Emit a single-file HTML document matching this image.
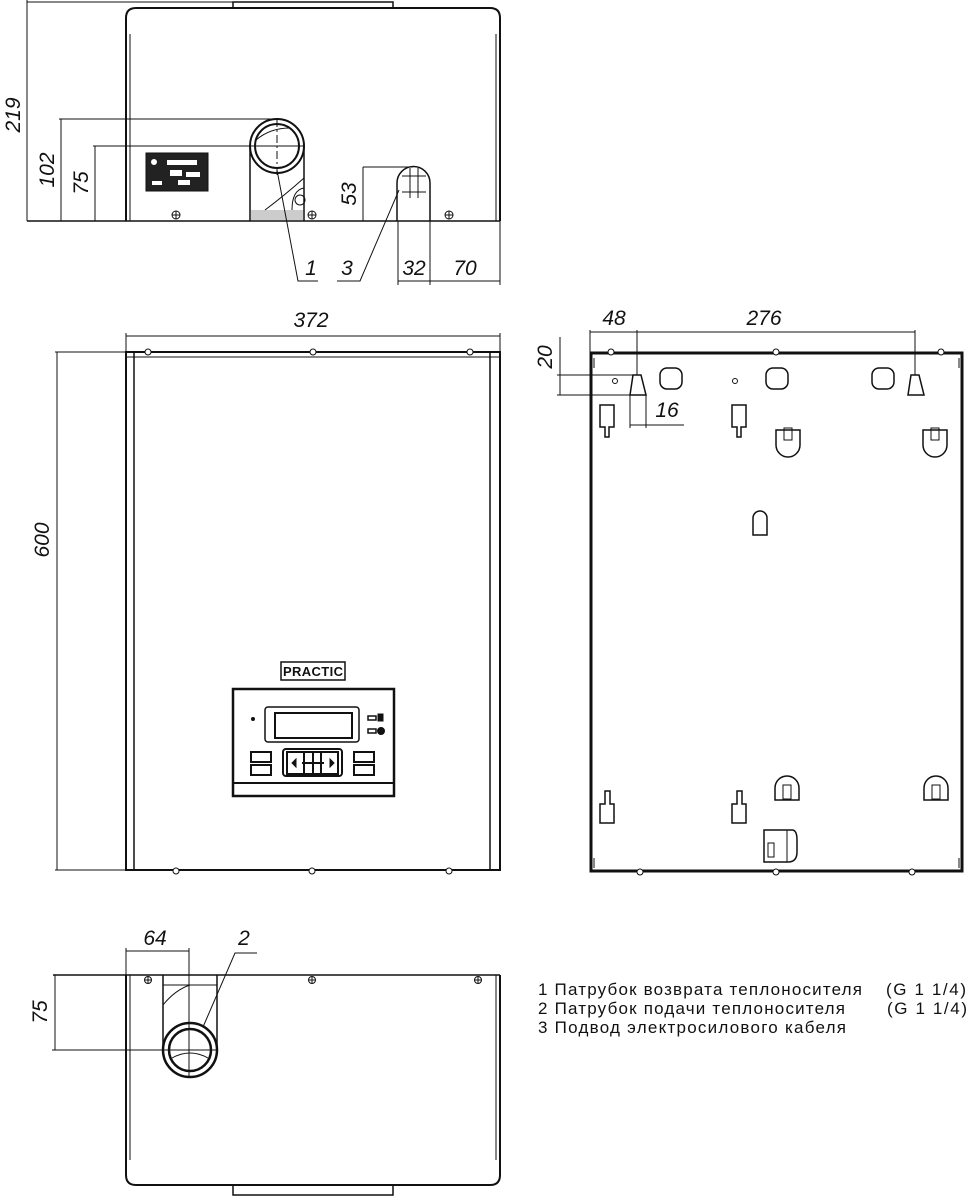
<!DOCTYPE html>
<html><head><meta charset="utf-8"><style>
html,body{margin:0;padding:0;background:#fff}
svg{display:block}
.d{font-family:"Liberation Sans",sans-serif;font-style:italic;font-size:21px;fill:#111}
.t{font-family:"Liberation Sans","Noto Sans CJK SC",sans-serif;font-size:17px;fill:#111}
</style></head><body>
<svg width="969" height="1200" viewBox="0 0 969 1200" xmlns="http://www.w3.org/2000/svg">
<g fill="none" stroke="#111" stroke-width="1">
<!-- TOP VIEW -->
<path d="M233 8 V2 H393 V8" stroke-width="1.5"/>
<path d="M126 221 V18 Q126 8 136 8 H490 Q500 8 500 18 V221" stroke-width="2"/>
<path d="M130 221 V34 M496 221 V34"/>
<line x1="27" y1="221" x2="500" y2="221" stroke-width="1.5"/>
<line x1="27" y1="0" x2="27" y2="221"/>
<line x1="27" y1="2" x2="233" y2="2"/>
<line x1="61" y1="119" x2="61" y2="221"/><line x1="59" y1="119" x2="277" y2="119"/>
<line x1="95" y1="146" x2="95" y2="221"/><line x1="93" y1="146" x2="305" y2="146"/>
<rect x="146" y="153" width="62" height="38" fill="#222"/>
<g fill="#fff" stroke="none"><rect x="167" y="160" width="30" height="5"/><rect x="170" y="170" width="12" height="6"/><rect x="186" y="172" width="14" height="5"/><rect x="152" y="181" width="10" height="4"/><rect x="178" y="180" width="12" height="5"/><circle cx="154" cy="162" r="3"/></g>
<path d="M250 221 V146 M304 221 V146" stroke-width="1.5"/>
<rect x="251" y="210" width="52" height="10" fill="#ccc" stroke="none"/>
<circle cx="277" cy="146" r="27" stroke-width="2"/>
<circle cx="277" cy="146" r="22" stroke-width="2"/>
<path d="M256 140 Q270 128 290 128"/>
<path d="M265 210 Q285 195 304 178"/>
<circle cx="300" cy="200" r="5"/><path d="M292 210 Q292 190 304 188"/>
<line x1="277" y1="119" x2="277" y2="175" stroke-dasharray="8 3 2 3"/>
<g fill="#fff"><circle cx="176" cy="215" r="4"/><circle cx="312" cy="215" r="4"/><circle cx="449" cy="215" r="4"/></g>
<path d="M172 215 H180 M176 211 V219 M308 215 H316 M312 211 V219 M445 215 H453 M449 211 V219"/>
<path d="M397 221 V183 A16.5 16.5 0 0 1 430 183 V221" stroke-width="1.5"/>
<path d="M402 176 H426 M402 192 H426 M410 168 V198 M418 168 V198"/>
<line x1="363" y1="167" x2="363" y2="221"/><line x1="363" y1="167" x2="413" y2="167"/>
<path d="M277 170 L298 281 H318"/>
<path d="M399 190 L360 281 H337"/>
<line x1="398" y1="221" x2="398" y2="285"/><line x1="430" y1="221" x2="430" y2="285"/><line x1="500" y1="221" x2="500" y2="285"/>
<line x1="398" y1="281" x2="500" y2="281"/>
<!-- FRONT VIEW -->
<rect x="126" y="352" width="374" height="518" stroke-width="2"/>
<path d="M134 352 V870 M490 352 V870" stroke-width="1.5"/>
<path d="M126 357 H500"/>
<g fill="#fff"><circle cx="148" cy="352" r="3"/><circle cx="313" cy="352" r="3"/><circle cx="470" cy="352" r="3"/>
<circle cx="176" cy="871" r="3"/><circle cx="312" cy="871" r="3"/><circle cx="449" cy="871" r="3"/></g>
<line x1="126" y1="336" x2="500" y2="336"/><line x1="126" y1="333" x2="126" y2="352"/><line x1="500" y1="333" x2="500" y2="352"/>
<line x1="57" y1="352" x2="57" y2="870"/><line x1="55" y1="352" x2="126" y2="352"/><line x1="55" y1="870" x2="126" y2="870"/>
<rect x="281" y="662" width="64" height="18" stroke-width="1.5"/>
<rect x="233" y="689" width="161" height="107" stroke-width="2.5"/>
<line x1="233" y1="783" x2="394" y2="783" stroke-width="2"/>
<rect x="265" y="707" width="94" height="35" rx="3" stroke-width="1.5"/>
<rect x="275" y="713" width="77" height="25" stroke-width="2"/>
<circle cx="253" cy="719" r="1.5" fill="#111"/>
<rect x="368" y="716" width="8" height="4" stroke-width="1.5"/><rect x="368" y="729" width="8" height="4" stroke-width="1.5"/>
<rect x="378" y="714" width="5" height="7" fill="#111"/><circle cx="381" cy="731" r="3.5" fill="#111"/>
<rect x="251" y="752" width="20" height="10" stroke-width="2"/><rect x="251" y="765" width="20" height="10" stroke-width="2"/>
<rect x="354" y="752" width="20" height="10" stroke-width="2"/><rect x="354" y="765" width="20" height="10" stroke-width="2"/>
<rect x="283" y="749" width="59" height="27" rx="3" stroke-width="2"/>
<rect x="287" y="752" width="17" height="22" stroke-width="2"/><rect x="304" y="752" width="17" height="22" stroke-width="2"/><rect x="321" y="752" width="17" height="22" stroke-width="2"/>
<path d="M296 759 L292 763 L296 767 Z M330 759 L334 763 L330 767 Z" fill="#111"/>
<path d="M302 763 H324 M313 753 V773" stroke-width="2"/>
<!-- RIGHT VIEW -->
<rect x="591" y="353" width="371" height="518" stroke-width="3"/>
<path d="M594 358 V368 M959 358 V368 M594 858 V868 M959 858 V868"/>
<g fill="#fff"><circle cx="611" cy="352" r="3"/><circle cx="776" cy="352" r="3"/><circle cx="941" cy="352" r="3"/>
<circle cx="640" cy="872" r="3"/><circle cx="776" cy="872" r="3"/><circle cx="912" cy="872" r="3"/></g>
<line x1="590" y1="332" x2="915" y2="332"/>
<line x1="590" y1="330" x2="590" y2="353"/><line x1="637" y1="330" x2="637" y2="375"/><line x1="915" y1="330" x2="915" y2="375"/>
<line x1="560" y1="337" x2="560" y2="395"/><line x1="557" y1="375" x2="637" y2="375"/><line x1="557" y1="395" x2="645" y2="395"/>
<path d="M633 375 H641 L646 395 H630 Z" stroke-width="1.5"/>
<path d="M911 375 H919 L924 395 H908 Z" stroke-width="1.5"/>
<line x1="630" y1="395" x2="630" y2="428"/><line x1="646" y1="395" x2="646" y2="428"/><line x1="630" y1="425" x2="684" y2="425"/>
<rect x="660" y="368" width="22" height="21" rx="7" stroke-width="1.5"/>
<rect x="766" y="368" width="22" height="21" rx="7" stroke-width="1.5"/>
<rect x="872" y="368" width="22" height="21" rx="7" stroke-width="1.5"/>
<circle cx="615" cy="381" r="2.5"/><circle cx="735" cy="381" r="2.5"/>
<path d="M600 405 H614 V427 H609 V437 H605 V427 H600 Z" stroke-width="1.5"/>
<path d="M732 405 H746 V427 H741 V437 H737 V427 H732 Z" stroke-width="1.5"/>
<path d="M776 430 H800 V445 A12 12 0 0 1 776 445 Z" stroke-width="1.5"/><rect x="784" y="428" width="8" height="12"/>
<path d="M923 430 H947 V445 A12 12 0 0 1 923 445 Z" stroke-width="1.5"/><rect x="931" y="428" width="8" height="12"/>
<path d="M753 535 V518 A7 7 0 0 1 767 518 V535 Z" stroke-width="1.5"/>
<path d="M775 800 V788 A12 12 0 0 1 799 788 V800 Z" stroke-width="1.5"/><rect x="783" y="785" width="8" height="14"/>
<path d="M924 800 V788 A12 12 0 0 1 948 788 V800 Z" stroke-width="1.5"/><rect x="932" y="785" width="8" height="14"/>
<path d="M600 823 V804 H605 V791 H610 V804 H614 V823 Z" stroke-width="1.5"/>
<path d="M732 823 V804 H737 V791 H742 V804 H746 V823 Z" stroke-width="1.5"/>
<path d="M764 830 H792 Q797 830 797 840 V852 Q797 862 788 862 H764 Z" stroke-width="1.5"/>
<line x1="787" y1="830" x2="787" y2="862"/><rect x="768" y="843" width="6" height="14"/>
<!-- BOTTOM VIEW -->
<path d="M126 975 V1175 Q126 1185 136 1185 H490 Q500 1185 500 1175 V975" stroke-width="2"/>
<path d="M130 975 V1160 M496 975 V1160"/>
<line x1="53" y1="975" x2="500" y2="975" stroke-width="1.5"/>
<path d="M233 1185 V1195 H393 V1185" stroke-width="1.5"/>
<g fill="#fff"><circle cx="148" cy="980" r="3.5"/><circle cx="312" cy="980" r="3.5"/><circle cx="478" cy="980" r="3.5"/></g>
<path d="M145 980 H151 M148 977 V983 M309 980 H315 M312 977 V983 M475 980 H481 M478 977 V983"/>
<path d="M163 975 V1050 M217 975 V1050" stroke-width="1.5"/>
<line x1="163" y1="985" x2="217" y2="985"/>
<path d="M163 1005 Q175 990 190 985"/>
<circle cx="190" cy="1050" r="27" stroke-width="2.5"/>
<circle cx="190" cy="1050" r="21" stroke-width="2.5"/>
<path d="M172 1058 Q190 1048 208 1058"/>
<line x1="126" y1="951" x2="189" y2="951"/><line x1="126" y1="948" x2="126" y2="975"/><line x1="189" y1="948" x2="189" y2="1077"/>
<line x1="55" y1="975" x2="55" y2="1050"/><line x1="52" y1="1050" x2="218" y2="1050"/>
<path d="M203 1027 L235 953 H257"/>
</g>
<g class="d">
<text transform="translate(20 115) rotate(-90)" text-anchor="middle">219</text>
<text transform="translate(54 170) rotate(-90)" text-anchor="middle">102</text>
<text transform="translate(88 183) rotate(-90)" text-anchor="middle">75</text>
<text transform="translate(356 194) rotate(-90)" text-anchor="middle">53</text>
<text x="311" y="275" text-anchor="middle">1</text>
<text x="347" y="275" text-anchor="middle">3</text>
<text x="414" y="275" text-anchor="middle">32</text>
<text x="465" y="275" text-anchor="middle">70</text>
<text x="311" y="327" text-anchor="middle">372</text>
<text transform="translate(49 540) rotate(-90)" text-anchor="middle">600</text>
<text x="614" y="325" text-anchor="middle">48</text>
<text x="764" y="325" text-anchor="middle">276</text>
<text transform="translate(552 357) rotate(-90)" text-anchor="middle">20</text>
<text x="667" y="417" text-anchor="middle">16</text>
<text x="155" y="945" text-anchor="middle">64</text>
<text x="244" y="945" text-anchor="middle">2</text>
<text transform="translate(47 1012) rotate(-90)" text-anchor="middle">75</text>
</g>
<text x="283" y="676" font-family="Liberation Sans,sans-serif" font-weight="bold" font-size="13" fill="#111" textLength="60">PRACTIC</text>
<g class="t">
<text x="538" y="995" textLength="324">1 Патрубок возврата теплоносителя</text>
<text x="886" y="995" textLength="80">(G 1  1/4)</text>
<text x="538" y="1014" textLength="307">2 Патрубок подачи теплоносителя</text>
<text x="887" y="1014" textLength="80">(G 1  1/4)</text>
<text x="538" y="1033" textLength="308">3 Подвод электросилового кабеля</text>
</g>
</svg>
</body></html>
